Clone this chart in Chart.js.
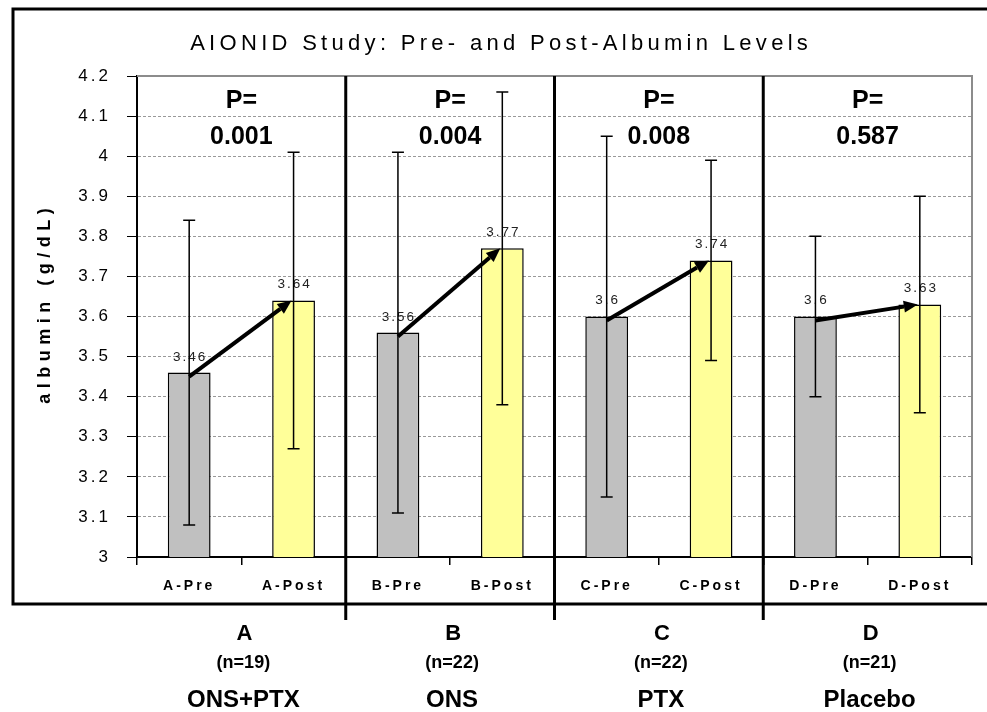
<!DOCTYPE html>
<html>
<head>
<meta charset="utf-8">
<script src="https://cdn.jsdelivr.net/npm/chart.js@4.4.1/dist/chart.umd.min.js"></script>
<style>
  body { margin: 0; background: #fff; }
  canvas { display: block; }
</style>
</head>
<body>
<canvas id="albuminChart" width="987" height="712"></canvas>
<script>
// Data
const categories = ['A-Pre', 'A-Post', 'B-Pre', 'B-Post', 'C-Pre', 'C-Post', 'D-Pre', 'D-Post'];
const albumin = [3.46, 3.64, 3.56, 3.77, 3.6, 3.74, 3.6, 3.63];
const errorBar = [0.38, 0.37, 0.45, 0.39, 0.45, 0.25, 0.2, 0.27];
const groups = ['A', 'B', 'C', 'D'];
const groupN = ['(n=19)', '(n=22)', '(n=22)', '(n=21)'];
const groupNames = ['ONS+PTX', 'ONS', 'PTX', 'Placebo'];
const pValues = ['0.001', '0.004', '0.008', '0.587'];
const yTicks = [3, 3.1, 3.2, 3.3, 3.4, 3.5, 3.6, 3.7, 3.8, 3.9, 4, 4.1, 4.2];

const FONT = '"Liberation Sans", Arial, sans-serif';
const barColors = categories.map((c, i) => i % 2 === 0 ? '#c0c0c0' : '#ffff99');

function txt(ctx, s, x, y, font, ls, align) {
  ctx.save();
  ctx.font = font;
  ctx.letterSpacing = ls + 'px';
  ctx.fillStyle = '#000';
  ctx.textAlign = align || 'center';
  ctx.textBaseline = 'middle';
  // letterSpacing adds a trailing gap, so nudge centred text
  ctx.fillText(s, x + (align ? 0 : ls / 2), y);
  ctx.restore();
}

const decorations = {
  id: 'decorations',
  beforeDraw(chart) {
    chart.ctx.letterSpacing = '3px';
  },
  afterDatasetsDraw(chart) {
    const ctx = chart.ctx;
    const y = chart.scales.y;
    const meta = chart.getDatasetMeta(0);

    // value labels
    meta.data.forEach((bar, i) => {
      ctx.save();
      ctx.font = '13.5px ' + FONT;
      ctx.letterSpacing = '2px';
      ctx.fillStyle = '#222';
      ctx.textAlign = 'center';
      ctx.textBaseline = 'bottom';
      ctx.fillText(String(albumin[i]), bar.x + 1, bar.y - 9);
      ctx.restore();
    });

    // error bars
    ctx.save();
    ctx.strokeStyle = '#000';
    ctx.lineWidth = 1.5;
    meta.data.forEach((bar, i) => {
      const top = y.getPixelForValue(albumin[i] + errorBar[i]);
      const bot = y.getPixelForValue(albumin[i] - errorBar[i]);
      ctx.beginPath();
      ctx.moveTo(bar.x, top); ctx.lineTo(bar.x, bot);
      ctx.moveTo(bar.x - 6, top); ctx.lineTo(bar.x + 6, top);
      ctx.moveTo(bar.x - 6, bot); ctx.lineTo(bar.x + 6, bot);
      ctx.stroke();
    });
    ctx.restore();

    // arrows pre -> post
    ctx.save();
    ctx.strokeStyle = '#000';
    ctx.fillStyle = '#000';
    ctx.lineWidth = 4;
    for (let g = 0; g < groups.length; g++) {
      const a = meta.data[g * 2], b = meta.data[g * 2 + 1];
      const x1 = a.x, y1 = a.y + 4, x2 = b.x - 2, y2 = b.y;
      const ang = Math.atan2(y2 - y1, x2 - x1);
      const hl = 14, hw = 6;
      const bx = x2 - hl * Math.cos(ang), by = y2 - hl * Math.sin(ang);
      ctx.beginPath();
      ctx.moveTo(x1, y1); ctx.lineTo(bx, by);
      ctx.stroke();
      ctx.beginPath();
      ctx.moveTo(x2, y2);
      ctx.lineTo(bx + hw * Math.sin(ang), by - hw * Math.cos(ang));
      ctx.lineTo(bx - hw * Math.sin(ang), by + hw * Math.cos(ang));
      ctx.closePath();
      ctx.fill();
    }
    ctx.restore();
  },
  afterDraw(chart) {
    const ctx = chart.ctx;
    const area = chart.chartArea;
    const step = (area.right - area.left) / categories.length;

    // plot border (top, right)
    ctx.save();
    ctx.strokeStyle = '#8c8c8c';
    ctx.lineWidth = 2;
    ctx.beginPath();
    ctx.moveTo(area.left, area.top); ctx.lineTo(area.right, area.top);
    ctx.lineTo(area.right, area.bottom);
    ctx.stroke();
    ctx.restore();

    // outer frame
    ctx.save();
    ctx.strokeStyle = '#000';
    ctx.lineWidth = 3;
    ctx.beginPath();
    ctx.moveTo(990, 9); ctx.lineTo(13, 9); ctx.lineTo(13, 604); ctx.lineTo(990, 604);
    ctx.stroke();
    ctx.restore();

    // group dividers
    ctx.save();
    ctx.strokeStyle = '#000';
    ctx.lineWidth = 3;
    for (let g = 1; g < groups.length; g++) {
      const dx = area.left + step * g * 2;
      ctx.beginPath();
      ctx.moveTo(dx, area.top); ctx.lineTo(dx, 620);
      ctx.stroke();
    }
    ctx.restore();

    // title
    txt(ctx, 'AIONID Study: Pre- and Post-Albumin Levels', 499, 44, '22px ' + FONT, 4.3);

    // y axis title
    ctx.save();
    ctx.translate(45, 306);
    ctx.rotate(-Math.PI / 2);
    txt(ctx, 'albumin (g/dL)', 0, 0, 'bold 18px ' + FONT, 5.5);
    ctx.restore();

    // P values and group labels
    groups.forEach((g, i) => {
      const cx = area.left + step * (i * 2 + 1);
      txt(ctx, 'P=', cx, 101, 'bold 25px ' + FONT, 0);
      txt(ctx, pValues[i], cx, 137, 'bold 25px ' + FONT, 0);
      txt(ctx, g, cx + 3, 634, 'bold 22px ' + FONT, 0);
      txt(ctx, groupN[i], cx + 2, 663, 'bold 18px ' + FONT, 0);
      txt(ctx, groupNames[i], cx + 2, 700, 'bold 24px ' + FONT, 0);
    });
  }
};

new Chart(document.getElementById('albuminChart'), {
  type: 'bar',
  data: {
    labels: categories,
    datasets: [{
      data: albumin,
      backgroundColor: barColors,
      borderColor: '#000',
      borderWidth: 1.5,
      borderSkipped: false,
      barPercentage: 0.41,
      categoryPercentage: 1
    }]
  },
  options: {
    responsive: false,
    animation: false,
    layout: { padding: { top: 76, right: 15, left: 0, bottom: 0 } },
    plugins: {
      legend: { display: false },
      tooltip: { enabled: false },
      title: { display: false }
    },
    scales: {
      y: {
        min: 3,
        max: 4.2,
        afterBuildTicks: s => { s.ticks = yTicks.map(v => ({ value: v })); },
        afterFit: s => { s.width = 137; },
        ticks: {
          color: '#000',
          padding: 16,
          font: { family: FONT, size: 17 },
          callback: v => String(Number(v.toFixed(1)))
        },
        grid: {
          color: '#999',
          tickColor: '#000',
          tickLength: 10,
          lineWidth: 1
        },
        border: { display: true, color: '#000', width: 2, dash: [3, 2] }
      },
      x: {
        afterFit: s => { s.height = 155; },
        ticks: {
          color: '#000',
          padding: 13,
          font: { family: FONT, size: 14, weight: 'bold' }
        },
        grid: {
          drawOnChartArea: false,
          tickLength: 8,
          tickColor: '#000',
          lineWidth: 1.5
        },
        border: { display: true, color: '#000', width: 2 }
      }
    }
  },
  plugins: [decorations]
});
</script>
</body>
</html>
